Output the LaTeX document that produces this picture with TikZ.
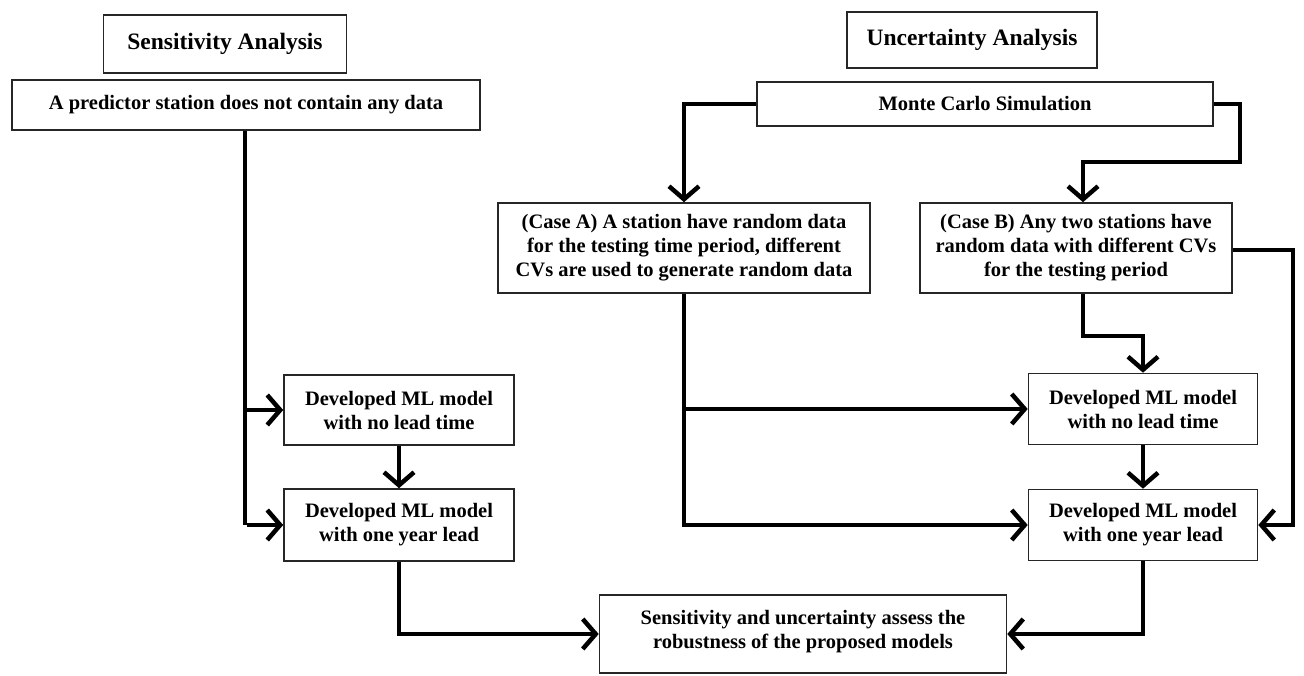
\documentclass[tikz,border=0pt]{standalone}
\usepackage{fontspec}
\setmainfont{Liberation Serif}
\usetikzlibrary{arrows.meta}
\begin{document}
\begin{tikzpicture}[x=1pt,y=-1pt,
  box/.style={draw=black!85, line width=1.6pt, fill=white, align=center,
    font=\bfseries\fontsize{20.5}{24}\selectfont, inner sep=0pt},
  titlebox/.style={box, font=\bfseries\fontsize{23.5}{27}\selectfont},
  conn/.style={line width=4.5pt, line join=miter, -{Straight Barb[length=13pt,width=30pt,line width=4.5pt]}},
  plain/.style={line width=4.5pt, line join=miter}]
\useasboundingbox (0,0) rectangle (1304,676);
\node[titlebox, minimum width=243pt, minimum height=58pt] (sa) at (225,44) {Sensitivity Analysis};
\node[titlebox, minimum width=250pt, minimum height=56pt] (ua) at (972,40) {Uncertainty Analysis};
\node[box, minimum width=468pt, minimum height=50pt] (pred) at (246,105) {A predictor station does not contain any data};
\node[box, minimum width=456pt, minimum height=44pt] (mc) at (985,104) {Monte Carlo Simulation};
\node[box, minimum width=372pt, minimum height=90pt] (ca) at (684,248) {(Case A) A station have random data\\for the testing time period, different\\CVs are used to generate random data};
\node[box, minimum width=312pt, minimum height=90pt] (cb) at (1076,248) {(Case B) Any two stations have\\random data with different CVs\\for the testing period};
\node[box, minimum width=230pt, minimum height=70pt] (l1) at (399,410) {Developed ML model\\with no lead time};
\node[box, minimum width=230pt, minimum height=72pt] (l2) at (399,525) {Developed ML model\\with one year lead};
\node[box, minimum width=229pt, minimum height=71pt] (r1) at (1143,409) {Developed ML model\\with no lead time};
\node[box, minimum width=229pt, minimum height=71pt] (r2) at (1143,525) {Developed ML model\\with one year lead};
\node[box, minimum width=407pt, minimum height=78pt] (fin) at (803,634) {Sensitivity and uncertainty assess the\\robustness of the proposed models\\[-14pt]\mbox{}};
% left side
\coordinate (pl) at (245,410);
\coordinate (pl2) at (245,525);
\draw[plain] (pred.south -| pl) -- (pl2);
\draw[conn] (pl) -- (l1.west);
\draw[conn] ([xshift=2.25pt]pl2) -- (l2.west);
\draw[conn] (l1.south) -- (l2.north);
\draw[conn] (l2.south) |- (fin.west);
% Monte Carlo
\draw[conn] (mc.west) -| (ca.north);
\coordinate (mcr) at (1240,162);
\coordinate (cbt) at (1083,162);
\draw[conn] (mc.east) -| (mcr) -- (cbt) -- (cbt |- cb.north);
% Case A
\coordinate (ca2) at (684,525);
\draw[plain] (ca.south) -- (ca2);
\draw[conn] (684,409) -- (r1.west);
\draw[conn] ([xshift=-2.25pt]ca2) -- (r2.west);
% Case B
\coordinate (cbb) at (1083,336);
\draw[conn] (cbb |- cb.south) -- (cbb) -| (r1.north);
\coordinate (cbr) at (1293,250);
\draw[conn] (cb.east |- cbr) -- (cbr) |- (r2.east);
\draw[conn] (r1.south) -- (r2.north);
\draw[conn] (r2.south) |- (fin.east);
\end{tikzpicture}
\end{document}
